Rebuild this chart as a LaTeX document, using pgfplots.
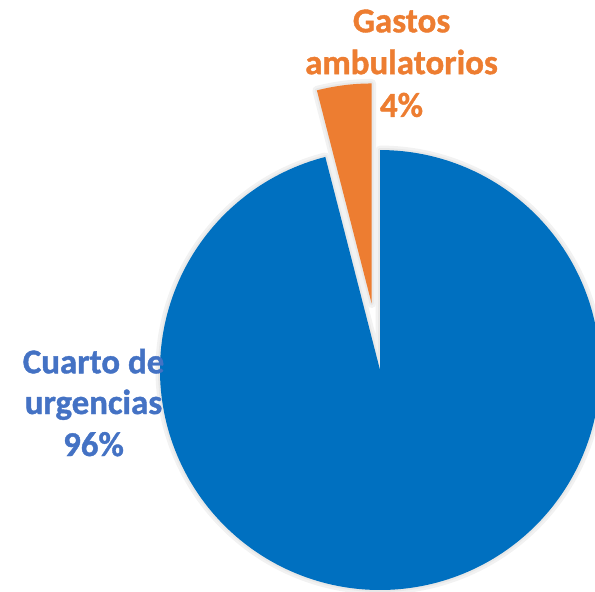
\documentclass[border=0pt]{standalone}
\usepackage{pgfplots}
\pgfplotsset{compat=1.18}
\usepackage{fontspec}
\setmainfont{Carlito}[BoldFeatures={FakeBold=1.1}]
\definecolor{pieblue}{HTML}{0070C0}
\definecolor{pieorange}{HTML}{ED7D31}
\definecolor{lblblue}{HTML}{4472C4}
% data (percent)
\def\valCuarto{96}
\def\valGastos{4}
\pgfmathsetmacro\angEnd{90-3.6*\valCuarto}
\pgfmathsetmacro\angG{90+3.6*\valGastos}
\pgfmathsetmacro\angMid{90+1.8*\valGastos}
\pgfmathsetmacro\offX{0.305*cos(\angMid)}
\pgfmathsetmacro\offY{0.305*sin(\angMid)}
\tikzset{lbl/.style={anchor=base, inner sep=0pt, font=\fontsize{35}{42}\selectfont\bfseries}}
\begin{document}
\begin{tikzpicture}
\begin{axis}[
  scale only axis, width=595bp, height=592bp,
  xmin=-1.727, xmax=0.977, ymin=-1.009, ymax=1.682,
  hide axis, clip=true,
]
% halo shadows
\addplot[draw=black!5, line width=9bp, line join=round, domain=90:\angEnd, samples=240]
  ({cos(x)},{sin(x)}) -- (0,0) -- cycle;
\addplot[draw=black!5, line width=9bp, line join=round, domain=90:\angG, samples=20]
  ({\offX+cos(x)},{\offY+sin(x)}) -- (\offX,\offY) -- cycle;
\addplot[draw=black!9, line width=4bp, line join=round, domain=90:\angEnd, samples=240]
  ({cos(x)},{sin(x)}) -- (0,0) -- cycle;
\addplot[draw=black!9, line width=4bp, line join=round, domain=90:\angG, samples=20]
  ({\offX+cos(x)},{\offY+sin(x)}) -- (\offX,\offY) -- cycle;
% slices
\addplot[fill=pieblue, draw=none, domain=90:\angEnd, samples=240]
  ({cos(x)},{sin(x)}) -- (0,0) -- cycle;
\addplot[fill=pieorange, draw=none, domain=90:\angG, samples=20]
  ({\offX+cos(x)},{\offY+sin(x)}) -- (\offX,\offY) -- cycle;
% labels
\node[lbl, text=pieorange] at (axis cs:0.0977,1.535) {Gastos};
\node[lbl, text=pieorange] at (axis cs:0.0977,1.345) {ambulatorios};
\node[lbl, text=pieorange] at (axis cs:0.0977,1.151) {4\%};
\node[lbl, text=lblblue] at (axis cs:-1.302,-0.015) {Cuarto de};
\node[lbl, text=lblblue] at (axis cs:-1.302,-0.200) {urgencias};
\node[lbl, text=lblblue] at (axis cs:-1.302,-0.391) {96\%};
\end{axis}
\pgfresetboundingbox
\path[use as bounding box] (current axis.south west) rectangle (current axis.north east);
\end{tikzpicture}
\end{document}
